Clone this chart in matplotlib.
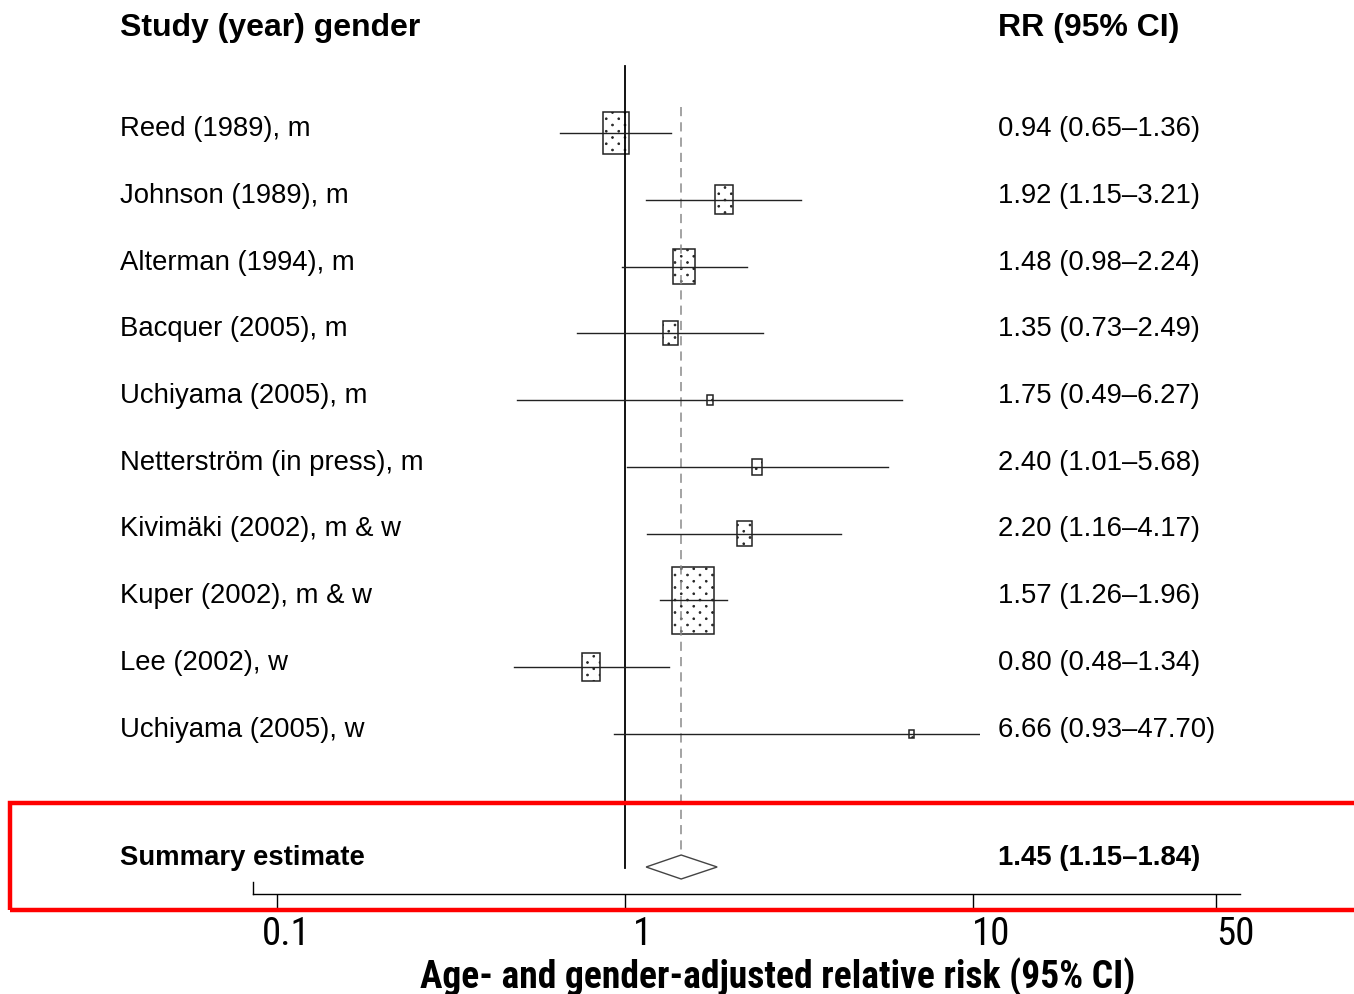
import matplotlib
matplotlib.use("Agg")
import matplotlib.pyplot as plt
import matplotlib.transforms as mtransforms
from matplotlib import font_manager as fm
from matplotlib import hatch as mhatch
from matplotlib.path import Path
from matplotlib.patches import Rectangle, Polygon
import numpy as np

# ---- data ----
studies = ["Reed (1989), m", "Johnson (1989), m", "Alterman (1994), m",
           "Bacquer (2005), m", "Uchiyama (2005), m", "Netterström (in press), m",
           "Kivimäki (2002), m & w", "Kuper (2002), m & w", "Lee (2002), w",
           "Uchiyama (2005), w"]
rr = [0.94, 1.92, 1.48, 1.35, 1.75, 2.40, 2.20, 1.57, 0.80, 6.66]
lo = [0.65, 1.15, 0.98, 0.73, 0.49, 1.01, 1.16, 1.26, 0.48, 0.93]
hi = [1.36, 3.21, 2.24, 2.49, 6.27, 5.68, 4.17, 1.96, 1.34, 47.70]
weight = [0.62, 0.43, 0.52, 0.36, 0.14, 0.24, 0.36, 1.00, 0.43, 0.12]
summary_label = "Summary estimate"
summary = (1.45, 1.15, 1.84)
xticks = [0.1, 1, 10, 50]
xtick_labels = ["0.1", "1", "10", "50"]


# ---- fine staggered dot fill for the study boxes ----
class StaggeredDots(mhatch.HatchPatternBase):
    nx, ny, radius = 8, 16, 0.009

    def __init__(self, hatch, density):
        n = hatch.count(".")
        self.circle = Path.unit_circle()
        if n == 0:
            self.num_vertices = 0
            return
        count = 0
        for row in range(self.ny + 1):
            count += self.nx + 1 if row % 2 == 0 else self.nx
        self.num_shapes = count
        self.num_vertices = count * len(self.circle.vertices)

    def set_vertices_and_codes(self, vertices, codes):
        sv = self.circle.vertices * self.radius
        parts_v, parts_c = [], []
        for row in range(self.ny + 1):
            if row % 2 == 0:
                cols = np.linspace(0, 1, self.nx + 1)
            else:
                cols = np.linspace(0.5 / self.nx, 1 - 0.5 / self.nx, self.nx)
            y = row / self.ny
            for x in cols:
                parts_v.append(sv + [x, y])
                parts_c.append(self.circle.codes)
        np.concatenate(parts_v, out=vertices)
        np.concatenate(parts_c, out=codes)


try:
    mhatch._hatch_types[mhatch._hatch_types.index(mhatch.SmallFilledCircles)] = StaggeredDots
except Exception:
    pass

# ---- fonts ----
entries = fm.fontManager.ttflist
names = {f.name for f in entries}
regular = "Liberation Sans" if "Liberation Sans" in names else "DejaVu Sans"
narrow_font = None
for cand in ["Liberation Sans Narrow", "Arial Narrow", "Roboto Condensed",
             "Open Sans Condensed", "Noto Sans Condensed"]:
    if cand in names:
        narrow_font = dict(family=cand)
        break
if narrow_font is None:
    for f in entries:
        if f.name in ("Noto Sans", "Open Sans", "DejaVu Sans", "Roboto") and \
                str(f.stretch) in ("condensed", "semi-condensed", "extra-condensed"):
            narrow_font = dict(family=f.name, stretch=f.stretch)
            break
if narrow_font is None:
    narrow_font = dict(family=regular)
    narrow_scale = 0.84
else:
    narrow_scale = 1.0

W, H = 1354, 994
fig = plt.figure(figsize=(W / 100, H / 100), dpi=100)
plt.rcParams["hatch.linewidth"] = 0.6

# axes whose bottom spine is the RR axis
y_axis_px = 894
ax = fig.add_axes([0, 1 - y_axis_px / H, 1, y_axis_px / H])
ax.set_xscale("log")
px0, dec = 625, 348.0  # pixel of RR=1, pixels per decade
ax.set_xlim(10 ** (-px0 / dec), 10 ** ((W - px0) / dec))
row0, drow = 133, 66.75
ax.set_ylim((y_axis_px - row0) / drow, -row0 / drow)
for s in ["top", "left", "right"]:
    ax.spines[s].set_visible(False)
ax.spines["bottom"].set_bounds(10 ** ((253 - px0) / dec), 10 ** ((1240 - px0) / dec))
ax.spines["bottom"].set_linewidth(1.0)
ax.set_yticks([])
ax.set_xticks(xticks)
ax.xaxis.set_minor_locator(matplotlib.ticker.NullLocator())
ax.set_xticklabels([])
ax.tick_params(axis="x", direction="out", length=12, width=1.0, color="black")

# short upward end tick at the left end of the axis
ax.plot([10 ** ((253 - px0) / dec)] * 2, [(y_axis_px - row0) / drow, (882 - row0) / drow],
        color="black", lw=1.0, clip_on=False)

# tick labels, drawn slightly right of their ticks
label_shift_px = [9, 18, 18, 19]
for v, lab, dx in zip(xticks, xtick_labels, label_shift_px):
    off = mtransforms.ScaledTranslation(dx / 100, 0, fig.dpi_scale_trans)
    ax.text(v, -22 / y_axis_px, lab, transform=ax.get_xaxis_transform() + off,
            ha="center", va="top", fontsize=28 * narrow_scale, clip_on=False,
            **narrow_font)

fig.text(778 / W, 1 - 977 / H, "Age- and gender-adjusted relative risk (95% CI)",
         ha="center", va="center", fontsize=27 * (0.85 if narrow_scale < 1 else 1),
         fontweight="bold", **narrow_font)

# reference line at RR = 1 and dashed line at the pooled estimate
ax.plot([1, 1], [(66 - row0) / drow, (868 - row0) / drow], color="black", lw=1.3)
ax.plot([summary[0]] * 2, [(107 - row0) / drow, (855 - row0) / drow],
        color="#8a8a8a", lw=1.1, dashes=(6, 4))

# confidence intervals stop short of the right-hand text column
ci_clip = Rectangle((0, 0), 980 / W, 1, transform=ax.transAxes, facecolor="none",
                    edgecolor="none")
kuper_w_dec = 42 / dec
kuper_h_rows = 67 / drow
for i, (r, l, h, w) in enumerate(zip(rr, lo, hi, weight)):
    line, = ax.plot([l, h], [i, i], color="#222222", lw=1.0)
    line.set_clip_path(ci_clip)
    half = kuper_w_dec * w / 2
    bh = kuper_h_rows * w
    ax.add_patch(Rectangle((r * 10 ** (-half), i - bh / 2),
                           r * 10 ** half - r * 10 ** (-half), bh,
                           facecolor="none", edgecolor="#222222", lw=1.1, hatch="."))

# pooled estimate diamond
ys = (867 - row0) / drow
dh = 12 / drow
est, slo, shi = summary
ax.add_patch(Polygon([(slo, ys), (est, ys - dh), (shi, ys), (est, ys + dh)], closed=True,
                     facecolor="white", edgecolor="#444444", lw=1.0))

# text columns
lab_trans = mtransforms.blended_transform_factory(fig.transFigure, ax.transData)
txt_dy = -4 / drow
fs = 19.8
for i, name in enumerate(studies):
    ax.text(120 / W, i + txt_dy, name, transform=lab_trans, ha="left", va="center",
            fontsize=fs, family=regular)
    ax.text(998 / W, i + txt_dy, f"{rr[i]:.2f} ({lo[i]:.2f}\u2013{hi[i]:.2f})",
            transform=lab_trans, ha="left", va="center", fontsize=fs, family=regular)

ax.text(120 / W, (858 - row0) / drow, summary_label, transform=lab_trans, ha="left",
        va="center", fontsize=fs, family=regular, fontweight="bold")
ax.text(998 / W, (858 - row0) / drow, f"{est:.2f} ({slo:.2f}\u2013{shi:.2f})",
        transform=lab_trans, ha="left", va="center", fontsize=fs, family=regular,
        fontweight="bold")

fig.text(120 / W, 1 - 28 / H, "Study (year) gender", ha="left", va="center",
         fontsize=23, family=regular, fontweight="bold")
fig.text(998 / W, 1 - 28 / H, "RR (95% CI)", ha="left", va="center",
         fontsize=23, family=regular, fontweight="bold")

# highlight frame around the summary row
fig.patches.append(Rectangle((10 / W, 1 - 910 / H), 1.2, 107 / H, transform=fig.transFigure,
                             facecolor="none", edgecolor="#ff0000", lw=3.2, clip_on=False))

fig.savefig("out.png", dpi=100)
